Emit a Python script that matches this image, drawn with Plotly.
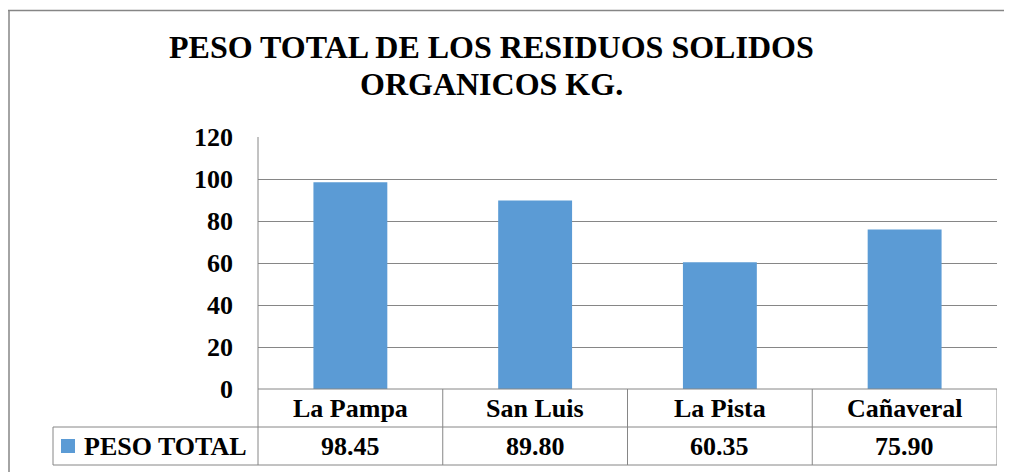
import plotly.graph_objects as go

categories = ["La Pampa", "San Luis", "La Pista", "Cañaveral"]
peso_total = [98.45, 89.80, 60.35, 75.90]
series_name = "PESO TOTAL"
title_lines = ["PESO TOTAL DE LOS RESIDUOS SOLIDOS", "ORGANICOS KG."]

OFF = 8  # page body margin
W, H = 1012 - OFF, 472 - OFF
FONT = "Liberation Serif"
GRAY = "#868686"
BLUE = "#5B9BD5"

def px(x):
    return (x - OFF) / W

def py(y):
    return 1 - (y - OFF) / H

# plot area in reference pixels
L, R, T, B = 258, 997, 137, 389
ROW1, ROW2 = 427, 465
LEG_L = 53

fig = go.Figure()
fig.add_trace(go.Bar(
    x=list(range(len(categories))), y=peso_total, name=series_name,
    marker=dict(color=BLUE, line=dict(width=0)), width=0.4,
    showlegend=False,
))

shapes = []
line = dict(color=GRAY, width=1)
shapes.append(dict(type="line", xref="paper", yref="paper", x0=px(9), x1=px(9), y0=py(10), y1=py(480), line=dict(color=GRAY, width=1.5)))
shapes.append(dict(type="line", xref="paper", yref="paper", x0=px(8), x1=px(1020), y0=py(10.5), y1=py(10.5), line=dict(color=GRAY, width=1.5)))
shapes.append(dict(type="line", xref="paper", yref="paper", x0=px(L), x1=px(L), y0=py(T), y1=py(ROW2), line=line))
shapes.append(dict(type="line", xref="paper", yref="paper", x0=px(L), x1=px(R), y0=py(B), y1=py(B), line=line))
shapes.append(dict(type="line", xref="paper", yref="paper", x0=px(LEG_L), x1=px(R), y0=py(ROW1), y1=py(ROW1), line=line))
shapes.append(dict(type="line", xref="paper", yref="paper", x0=px(LEG_L), x1=px(R), y0=py(ROW2), y1=py(ROW2), line=line))
shapes.append(dict(type="line", xref="paper", yref="paper", x0=px(LEG_L), x1=px(LEG_L), y0=py(ROW1), y1=py(ROW2), line=line))
for i in range(len(categories)):
    xb = i + 0.5
    shapes.append(dict(type="line", xref="x", yref="paper", x0=xb, x1=xb, y0=py(B), y1=py(ROW2), line=line))
shapes.append(dict(type="rect", xref="paper", yref="paper", x0=px(61), x1=px(75), y0=py(439), y1=py(453),
                   fillcolor=BLUE, line=dict(width=0)))

bold26 = dict(family=FONT, size=26, color="black", weight="bold")
annotations = []
for i, (c, v) in enumerate(zip(categories, peso_total)):
    annotations.append(dict(x=i, xref="x", y=py((B + ROW1) / 2), yref="paper", text=c,
                            showarrow=False, font=bold26, xanchor="center", yanchor="middle"))
    annotations.append(dict(x=i, xref="x", y=py((ROW1 + ROW2) / 2), yref="paper", text=f"{v:.2f}",
                            showarrow=False, font=bold26, xanchor="center", yanchor="middle"))
annotations.append(dict(x=px(82), xref="paper", y=py((ROW1 + ROW2) / 2), yref="paper", text=series_name,
                        showarrow=False, font=bold26, xanchor="left", yanchor="middle"))
for yc, txt in zip([47, 84], title_lines):
    annotations.append(dict(x=px(491), xref="paper", y=py(yc), yref="paper", text=txt,
                            showarrow=False, font=dict(family=FONT, size=32, color="black", weight="bold"),
                            xanchor="center", yanchor="middle"))

fig.update_layout(
    width=W, height=H,
    margin=dict(l=0, r=0, t=0, b=0, pad=0, autoexpand=False),
    paper_bgcolor="white", plot_bgcolor="white",
    font=dict(family=FONT, color="black"),
    bargap=0.6,
    shapes=shapes, annotations=annotations,
    xaxis=dict(domain=[px(L), px(R)], range=[-0.5, len(categories) - 0.5], automargin=False,
               showticklabels=False, showgrid=False, zeroline=False, showline=False, fixedrange=True),
    yaxis=dict(domain=[py(B), py(T)], range=[0, 120], dtick=20, automargin=False,
               showgrid=True, gridcolor=GRAY, gridwidth=1, zeroline=False, showline=False,
               ticks="", ticklabelstandoff=24,
               tickfont=bold26),
)

fig.write_html("out.html")
